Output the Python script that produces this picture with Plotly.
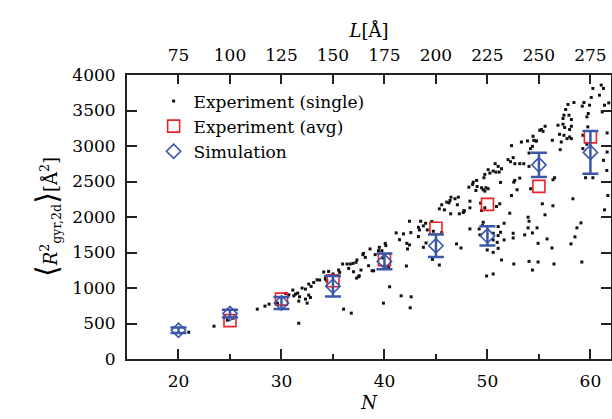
import plotly.graph_objects as go

# experiment, single molecules: N and <R^2_gyr,2d> [A^2]
n_single = [21.0, 23.45, 24.75, 25.3, 27.65, 28.4, 28.8, 29.6, 30.42, 30.71, 31.1, 31.36, 31.58, 31.75,
            31.68, 31.68, 31.2, 32.33, 32.49, 32.65, 32.81, 32.0, 32.33, 32.65, 32.88, 33.13, 33.46, 33.71,
            34.1, 34.26, 34.58, 35.0, 35.55, 35.65, 35.94, 36.37, 36.68, 36.95, 37.33, 37.24, 36.52, 37.0,
            37.55, 37.72, 37.9, 37.97, 38.14, 38.46, 38.6, 38.8, 38.95, 39.1, 39.42, 39.5, 40.07, 40.13,
            34.4, 34.3, 36.03, 36.78, 39.9, 40.5, 37.5, 37.3, 39.75, 39.85, 40.4, 41.62, 42.59, 42.5,
            42.13, 41.14, 41.46, 41.85, 42.43, 42.17, 42.24, 42.43, 42.56, 43.3, 43.4, 43.3, 43.52, 43.78,
            44.0, 44.16, 43.78, 44.04, 44.6, 44.75, 45.56, 44.66, 45.33, 45.33, 45.56, 45.82, 46.05, 46.27,
            46.46, 46.37, 46.85, 47.17, 47.08, 46.43, 47.27, 47.75, 48.2, 48.3, 48.3, 48.3, 47.0, 47.43,
            55.08, 54.43, 54.7, 53.89, 53.3, 52.34, 54.37, 54.18, 54.04, 52.5, 52.0, 52.24, 52.66, 53.14,
            53.53, 54.04, 50.75, 51.04, 51.37, 50.07, 50.24, 50.56, 50.82, 51.14, 49.75, 49.66, 48.95, 48.62,
            48.56, 49.0, 48.88, 49.43, 49.59, 49.85, 50.07, 49.75, 51.27, 53.14, 52.66, 52.56, 52.88, 52.34,
            54.2, 47.72, 49.34, 49.75, 49.43, 50.88, 51.2, 52.17, 53.95, 54.04, 49.59, 49.53, 49.2, 49.27,
            51.04, 51.62, 51.27, 50.56, 51.04, 50.95, 50.56, 51.62, 52.5, 52.5, 53.62, 53.95, 54.37, 54.82,
            54.92, 49.98, 50.56, 51.04, 51.37, 52.56, 54.04, 54.92, 54.37, 49.92, 50.56, 61.05, 61.27, 60.88,
            61.37, 61.78, 60.24, 60.08, 59.37, 59.21, 58.4, 57.82, 57.6, 59.92, 61.15, 59.79, 59.66, 57.43,
            57.92, 57.34, 58.15, 55.4, 55.24, 54.5, 54.76, 56.85, 57.34, 57.5, 57.0, 57.98, 58.15, 57.43,
            58.15, 57.73, 56.3, 57.17, 57.98, 59.75, 57.07, 59.27, 59.27, 59.66, 61.62, 61.62, 61.59, 56.52,
            56.37, 59.53, 60.24, 61.69, 58.3, 61.37, 55.33, 56.36, 55.59, 55.79, 56.27, 59.08, 58.69, 58.5,
            58.11, 56.46, 59.17, 47.65, 61.27, 55.6]
r2_single = [377, 462, 547, 575, 702, 745, 773, 787, 923, 904, 971, 914, 928, 876,
             815, 504, 890, 844, 787, 900, 866, 999, 985, 1055, 1022, 1078, 1116, 1112,
             1225, 1126, 1234, 1197, 1253, 1220, 1338, 1338, 1338, 1347, 1395, 1361, 1276, 1229,
             1173, 1253, 1470, 1488, 1431, 1314, 1550, 1243, 1243, 1470, 1526, 1573, 1629, 1597,
             1102, 1159, 702, 646, 787, 1017, 1159, 1140, 1526, 1423, 1290, 890, 876, 721,
             1310, 1776, 1681, 1762, 1940, 1629, 1550, 1607, 1780, 1724, 1818, 1855, 1940, 1875,
             1912, 1818, 1573, 1635, 1936, 1799, 1780, 1403, 1324, 2115, 2172, 2101, 2209, 2200,
             2279, 2233, 2257, 2279, 2172, 2045, 2045, 2081, 2420, 2223, 2129, 1832, 1621, 1564,
             3222, 3137, 3071, 3071, 3056, 3005, 2995, 2963, 2901, 2836, 2808, 2779, 2751, 2751,
             2751, 2713, 2751, 2713, 2680, 2666, 2618, 2647, 2633, 2633, 2600, 2553, 2515, 2491,
             2459, 2430, 2374, 2412, 2384, 2412, 2398, 2364, 2487, 2548, 2515, 2491, 2384, 2303,
             2398, 2091, 2195, 2129, 2091, 2148, 2186, 2053, 1997, 1940, 1926, 1879, 1832, 1748,
             1865, 1912, 1785, 1771, 1738, 1643, 1677, 1677, 1771, 1705, 1748, 1847, 1776, 1847,
             1629, 1536, 1502, 1559, 1395, 1338, 1375, 1366, 1253, 1169, 1197, 3858, 3811, 3716,
             3575, 3607, 3811, 3684, 3613, 3561, 3613, 3585, 3514, 3575, 3480, 3458, 3410, 3434,
             3434, 3387, 3373, 3207, 3232, 3080, 3071, 3293, 3307, 3260, 3165, 3232, 3278, 3151,
             3104, 3104, 3080, 3056, 3127, 3269, 2949, 3151, 2963, 3024, 3184, 2915, 2656, 2553,
             2525, 2553, 2553, 2303, 2257, 2101, 2186, 2158, 2031, 1691, 1564, 1917, 1847, 1720,
             1621, 1338, 1366, 2063, 2798, 3278]

# experiment averages
n_avg = [25, 30, 35, 40, 45, 50, 55, 60]
r2_avg = [540, 844, 1102, 1399, 1841, 2178, 2432, 3128]

# simulation
n_sim = [20, 25, 30, 35, 40, 45, 50, 55, 60]
r2_sim = [405, 640, 790, 1025, 1375, 1595, 1735, 2735, 2910]
r2_sim_err = [40, 55, 85, 145, 110, 160, 135, 170, 300]

# top axis: chain length L [A] = 5 N - 25
l_top = [5 * n - 25 for n in n_sim]
l_ticks = [75, 100, 125, 150, 175, 200, 225, 250, 275]

font_name = 'DejaVu Serif'
blue = '#3b57a8'
red = '#ec2227'

fig = go.Figure()

fig.add_trace(go.Scatter(x=n_single, y=r2_single, mode='markers', name='Experiment (single)',
                         marker=dict(symbol='square', size=3, color='#111111')))
fig.add_trace(go.Scatter(x=n_avg, y=r2_avg, mode='markers', name='Experiment (avg)',
                         marker=dict(symbol='square-open', size=12, color=red, line=dict(width=1.6))))
fig.add_trace(go.Scatter(x=n_sim, y=r2_sim, mode='markers', name='Simulation',
                         marker=dict(symbol='diamond-open', size=11, color=blue, line=dict(width=1.6)),
                         error_y=dict(type='data', array=r2_sim_err, color=blue, thickness=2.5, width=8)))
# invisible trace carrying the top L axis
fig.add_trace(go.Scatter(x=l_top, y=r2_sim, xaxis='x2', mode='markers', showlegend=False,
                         hoverinfo='skip', marker=dict(opacity=0)))

axis_common = dict(showline=True, linewidth=2, linecolor='#222222', ticks='inside',
                   tickcolor='#222222', tickwidth=1.5, showgrid=False, zeroline=False,
                   automargin=False,
                   tickfont=dict(family=font_name, size=17, color='black'))

fig.update_layout(
    width=612, height=419,
    margin=dict(l=127, r=1, t=75, b=60),
    plot_bgcolor='white', paper_bgcolor='white',
    font=dict(family=font_name, size=17, color='black'),
    xaxis=dict(axis_common, range=[15, 62], tickvals=[20, 30, 40, 50, 60], ticklen=10,
               minor=dict(tickvals=[25, 35, 45, 55], ticks='inside', ticklen=5, tickwidth=1.5,
                          tickcolor='#222222'),
               mirror=True, ticklabelstandoff=6,
               title=dict(text='<i>N</i>', font=dict(family=font_name, size=18), standoff=6)),
    xaxis2=dict(axis_common, overlaying='x', side='top', anchor='y', range=[50, 285],
                tickvals=l_ticks, ticklen=9, ticklabelstandoff=5,
                title=dict(text='<i>L</i>[Å]', font=dict(family=font_name, size=18), standoff=3)),
    yaxis=dict(axis_common, range=[0, 4000], dtick=500, ticklen=10, mirror='ticks',
               ticklabelstandoff=6,
               title=dict(text='<span style="font-size:30px">⟨</span><i>R</i><sup>2</sup>'
                               '<sub>gyr,2d</sub><span style="font-size:30px">⟩</span>[Å<sup>2</sup>]',
                          font=dict(family=font_name, size=18), standoff=10)),
    legend=dict(x=0.055, y=0.97, xanchor='left', yanchor='top', bgcolor='rgba(0,0,0,0)',
                font=dict(family=font_name, size=17), tracegroupgap=0),
    showlegend=True,
)

# drop the default page margin so the figure sits at the window's corner
fig.write_html('out.html', config={'displayModeBar': False},
               post_script="document.body.style.margin='0px';")
